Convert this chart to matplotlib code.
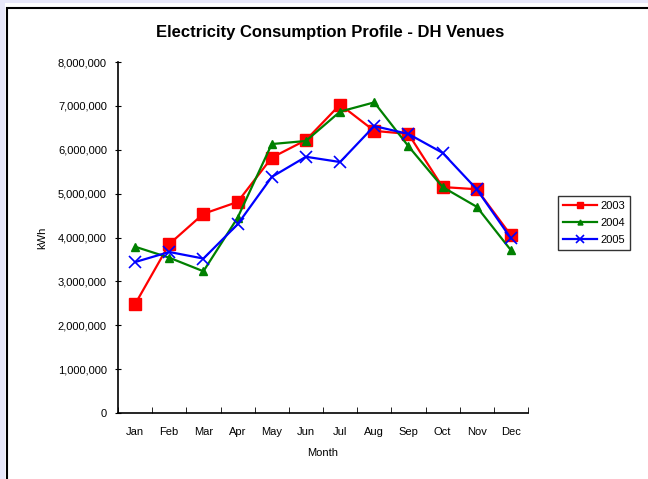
import matplotlib.pyplot as plt
import matplotlib.patches as patches
from matplotlib.ticker import FuncFormatter, FixedLocator
import numpy as np

plt.rcParams['font.family'] = ['Liberation Sans', 'DejaVu Sans']

months = ['Jan', 'Feb', 'Mar', 'Apr', 'May', 'Jun', 'Jul', 'Aug', 'Sep', 'Oct', 'Nov', 'Dec']
kwh_2003 = [2480000, 3850000, 4540000, 4810000, 5820000, 6220000, 7030000, 6430000, 6360000, 5150000, 5100000, 4050000]
kwh_2004 = [3790000, 3540000, 3230000, 4450000, 6130000, 6200000, 6870000, 7080000, 6080000, 5150000, 4700000, 3710000]
kwh_2005 = [3440000, 3670000, 3520000, 4300000, 5380000, 5840000, 5720000, 6540000, 6360000, 5930000, 5100000, 3980000]

fig = plt.figure(figsize=(6.48, 4.79), dpi=100, facecolor='#E8E8FA')
W, H = 648, 479

# white page with black border (cropped on right / bottom)
fig.patches.append(patches.Rectangle((5 / W, -0.1), 1.2, 1 - 3 / H + 0.1, transform=fig.transFigure,
                                     facecolor='white', edgecolor='none', zorder=-10))
fig.patches.append(patches.Rectangle((7 / W, -0.1), 1.2, 1 - 8 / H + 0.1, transform=fig.transFigure,
                                     facecolor='white', edgecolor='black', linewidth=1.5, zorder=-9))

ax = fig.add_axes([118 / W, 1 - 413 / H, 410 / W, 351 / H])
ax.patch.set_alpha(0)

x = np.arange(len(months))
ax.plot(x, kwh_2003, color='#FF0000', marker='s', markersize=8, linewidth=1.6, label='2003')
ax.plot(x, kwh_2004, color='#008000', marker='^', markersize=6, linewidth=1.6, label='2004')
ax.plot(x, kwh_2005, color='#0000FF', marker='x', markersize=9, markeredgewidth=1.2, linewidth=1.6, label='2005')

ax.set_xlim(-0.5, len(months) - 0.5)
ax.set_ylim(0, 8000000)
ax.set_yticks(np.arange(0, 8000001, 1000000))
ax.yaxis.set_major_formatter(FuncFormatter(lambda v, p: f'{int(v):,}'))
ax.set_xticks(x)
ax.set_xticklabels(months)
ax.xaxis.set_minor_locator(FixedLocator(np.arange(-0.5, len(months), 1.0)))
ax.tick_params(axis='x', which='major', length=0, pad=10, labelsize=8)
ax.tick_params(axis='x', which='minor', length=4, direction='in')
ax.tick_params(axis='y', length=4, direction='inout', labelsize=8, pad=6)

ax.spines['top'].set_visible(False)
ax.spines['right'].set_visible(False)
ax.spines['left'].set_linewidth(1.2)
ax.spines['bottom'].set_linewidth(1.2)

ax.set_xlabel('Month', fontsize=8, labelpad=8)
ax.set_ylabel('kWh', fontsize=8, labelpad=8)
fig.text(330 / W, 1 - 33 / H, 'Electricity Consumption Profile - DH Venues',
         ha='center', va='center', fontsize=12, fontweight='bold')

leg = fig.legend(loc='center', bbox_to_anchor=(594 / W, 1 - 223 / H), fontsize=8,
                 frameon=True, fancybox=False, edgecolor='black', borderpad=0.5,
                 handlelength=3, labelspacing=0.6, handletextpad=0.3, markerscale=0.6)
leg.get_frame().set_linewidth(1.0)

fig.savefig('out.png', dpi=100, facecolor=fig.get_facecolor())
